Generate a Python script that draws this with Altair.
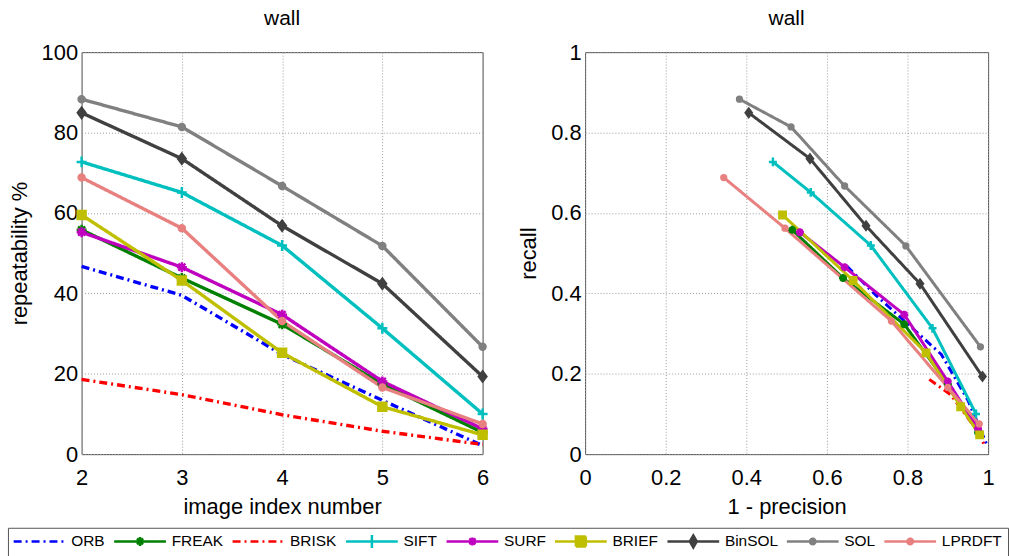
import altair as alt
import pandas as pd

methods = ["ORB", "FREAK", "BRISK", "SIFT", "SURF", "BRIEF", "BinSOL", "SOL", "LPRDFT"]
image_index = [2, 3, 4, 5, 6]

# Repeatability (%) for each image index
rep_orb = [46.7, 39.5, 24.8, 13.4, 2.1]
rep_freak = [55.8, 43.8, 32.3, 17.4, 5.4]
rep_brisk = [18.6, 14.8, 9.8, 5.7, 2.4]
rep_sift = [72.7, 65.1, 51.9, 31.3, 10.0]
rep_surf = [55.2, 46.5, 34.7, 18.1, 6.3]
rep_brief = [59.5, 43.2, 25.2, 11.8, 4.8]
rep_binsol = [84.9, 73.5, 56.8, 42.4, 19.3]
rep_sol = [88.3, 81.4, 66.7, 51.8, 26.7]
rep_lprdft = [68.8, 56.2, 33.1, 16.6, 7.5]

# Recall against 1 - precision
rec_orb = [0.467, 0.395, 0.248, 0.134, 0.021]
fp_orb = [0.650, 0.722, 0.884, 0.950, 0.998]
rec_freak = [0.558, 0.438, 0.323, 0.174, 0.054]
fp_freak = [0.514, 0.640, 0.792, 0.900, 0.975]
rec_brisk = [0.186, 0.148, 0.098, 0.057, 0.024]
fp_brisk = [0.854, 0.907, 0.944, 0.974, 0.990]
rec_sift = [0.727, 0.651, 0.519, 0.313, 0.100]
fp_sift = [0.466, 0.560, 0.709, 0.862, 0.970]
rec_surf = [0.552, 0.465, 0.347, 0.181, 0.063]
fp_surf = [0.533, 0.644, 0.792, 0.900, 0.975]
rec_brief = [0.595, 0.432, 0.252, 0.118, 0.048]
fp_brief = [0.490, 0.665, 0.846, 0.932, 0.979]
rec_binsol = [0.849, 0.735, 0.568, 0.424, 0.193]
fp_binsol = [0.406, 0.558, 0.697, 0.831, 0.986]
rec_sol = [0.883, 0.814, 0.667, 0.518, 0.267]
fp_sol = [0.383, 0.511, 0.644, 0.796, 0.981]
rec_lprdft = [0.688, 0.562, 0.331, 0.166, 0.075]
fp_lprdft = [0.344, 0.496, 0.760, 0.900, 0.978]

repeatability = [rep_orb, rep_freak, rep_brisk, rep_sift, rep_surf,
                 rep_brief, rep_binsol, rep_sol, rep_lprdft]
recall = [rec_orb, rec_freak, rec_brisk, rec_sift, rec_surf,
          rec_brief, rec_binsol, rec_sol, rec_lprdft]
one_minus_precision = [fp_orb, fp_freak, fp_brisk, fp_sift, fp_surf,
                       fp_brief, fp_binsol, fp_sol, fp_lprdft]

# ---- styling -------------------------------------------------------------
colors = ["#0000ff", "#008000", "#ff0000", "#00bfbf", "#bf00bf",
          "#bfbf00", "#404040", "#808080", "#e88080"]
dash_dot = [8, 4, 2, 4]
solid = [1, 0]
dashes = [dash_dot, solid, dash_dot, solid, solid, solid, solid, solid, solid]

ASTERISK = "M0,-1V1M-1,0H1M-0.7,-0.7L0.7,0.7M-0.7,0.7L0.7,-0.7"
PLUS = "M0,-1.1V1.1M-1,0H1"
SQUARE = "M-0.8,-0.8H0.8V0.8H-0.8Z"
DIAMOND = "M0,-1L0.75,0L0,1L-0.75,0Z"
DOT = "M-0.6,0A0.6,0.6 0 1,0 0.6,0A0.6,0.6 0 1,0 -0.6,0Z"
plot_marker = {"FREAK": ASTERISK, "SIFT": PLUS, "SURF": ASTERISK, "BRIEF": SQUARE,
               "BinSOL": DIAMOND, "SOL": DOT, "LPRDFT": DOT}

# legend glyphs: a 52 px line segment with the series marker on it (unit = 5 px)
SEG = "M-5.2,0H5.2"
legend_glyph = {
    "ORB": SEG,
    "FREAK": SEG + "M0,-0.9V0.9M-0.9,0H0.9M-0.6,-0.6L0.6,0.6M-0.6,0.6L0.6,-0.6",
    "BRISK": SEG,
    "SIFT": SEG + "M0,-1.3V1.3",
    "SURF": SEG + "M0,-0.8V0.8M-0.6,-0.6L0.6,0.6M-0.6,0.6L0.6,-0.6",
    "BRIEF": SEG + "M-1,-1H1V1H-1Z",
    "BinSOL": SEG + "M0,-1.2L0.7,0L0,1.2L-0.7,0Z",
    "SOL": SEG + "M-0.55,0A0.55,0.55 0 1,0 0.55,0A0.55,0.55 0 1,0 -0.55,0Z",
    "LPRDFT": SEG + "M-0.55,0A0.55,0.55 0 1,0 0.55,0A0.55,0.55 0 1,0 -0.55,0Z",
}
legend_shapes = [legend_glyph[m] for m in methods]

FONT = "Liberation Sans"
PAD_LEFT, PAD_TOP = 7, 6
# legend box corner, measured from the top-left corner of the left plot area
LEGEND_X, LEGEND_Y = -74, 478

# ---- tables --------------------------------------------------------------
rows_rep, rows_pr = [], []
for name, rep, rec, fp in zip(methods, repeatability, recall, one_minus_precision):
    for k, (ix, r) in enumerate(zip(image_index, rep)):
        rows_rep.append({"method": name, "k": k, "x": ix, "y": r,
                         "marker": plot_marker.get(name)})
    for k, (f, r) in enumerate(zip(fp, rec)):
        rows_pr.append({"method": name, "k": k, "x": f, "y": r,
                        "marker": plot_marker.get(name)})
df_rep = pd.DataFrame(rows_rep)
df_pr = pd.DataFrame(rows_pr)

legend_def = alt.Legend(
    title=None, orient="none", legendX=LEGEND_X, legendY=LEGEND_Y,
    direction="horizontal", columns=9, gridAlign="none",
    symbolSize=100, symbolStrokeWidth=2.5, symbolOffset=18,
    labelOffset=24, labelFont=FONT, labelFontSize=15.5, labelColor="black",
    columnPadding=3, padding=6, strokeColor="#555555", fillColor="white",
    cornerRadius=0,
)


def panel(df, xtitle, ytitle, xdom, xvals, ydom, yvals, width, height,
          line_w, marker_size, with_legend):
    x = alt.X("x:Q", scale=alt.Scale(domain=xdom, nice=False, zero=False),
              axis=alt.Axis(values=xvals, title=xtitle, format="~r",
                            labelFlush=False, labelPadding=14, titlePadding=8))
    y = alt.Y("y:Q", scale=alt.Scale(domain=ydom, nice=False, zero=False),
              axis=alt.Axis(values=yvals, title=ytitle, format="~r",
                            labelFlush=False, labelPadding=4, titlePadding=10))
    color_nl = alt.Color("method:N", scale=alt.Scale(domain=methods, range=colors),
                         legend=None)
    fill_nl = alt.Fill("method:N", scale=alt.Scale(domain=methods, range=colors),
                       legend=None)
    stroke_nl = alt.Stroke("method:N", scale=alt.Scale(domain=methods, range=colors),
                           legend=None)
    dash_nl = alt.StrokeDash("method:N", scale=alt.Scale(domain=methods, range=dashes),
                             legend=None)
    base = alt.Chart(df)
    layers = []
    if with_legend:
        # off-plot copies (clipped away) that only feed the shared legend
        ghost = base.transform_calculate(y="-1000").mark_point(
            filled=False, opacity=1, strokeWidth=2.5, clip=True).encode(
            x=x, y=y,
            color=alt.Color("method:N", scale=alt.Scale(domain=methods, range=colors),
                            legend=legend_def),
            shape=alt.Shape("method:N", scale=alt.Scale(domain=methods, range=legend_shapes),
                            legend=legend_def),
            strokeDash=alt.StrokeDash("method:N", scale=alt.Scale(domain=methods, range=dashes),
                                      legend=legend_def))
        layers.append(ghost)
    lines = base.mark_line(strokeWidth=line_w).encode(
        x=x, y=y, color=color_nl, strokeDash=dash_nl, order="k:Q")
    points = base.transform_filter("isValid(datum.marker)").mark_point(
        filled=True, opacity=1, strokeWidth=2.5, size=marker_size).encode(
        x=x, y=y, fill=fill_nl, stroke=stroke_nl,
        shape=alt.Shape("marker:N", scale=None, legend=None))
    layers += [lines, points]
    return alt.layer(*layers).properties(
        width=width, height=height,
        title=alt.TitleParams("wall", fontSize=21, fontWeight="normal", font=FONT,
                              offset=12, anchor="middle", color="black"))


left = panel(df_rep, "image index number", "repeatability %", [2, 6], image_index,
             [0, 100], [0, 20, 40, 60, 80, 100], 403, 404, 3.4, 100, True)
right = panel(df_pr, "1 - precision", "recall", [0, 1], [0, 0.2, 0.4, 0.6, 0.8, 1],
              [0, 1], [0, 0.2, 0.4, 0.6, 0.8, 1], 405, 404, 3.0, 64, False)

chart = alt.hconcat(left, right, spacing=23).properties(
    padding={"left": PAD_LEFT, "top": PAD_TOP, "right": 0, "bottom": 0}
).configure(font=FONT).configure_view(
    stroke="#4d4d4d", strokeWidth=1
).configure_axis(
    domain=False, ticks=False, grid=True, gridDash=[1, 2], gridColor="#9a9a9a",
    gridWidth=1, labelFont=FONT, labelFontSize=22, labelColor="black",
    titleFont=FONT, titleFontSize=22, titleFontWeight="normal", titleColor="black",
)

chart.save("out.html", embed_options={"renderer": "svg", "actions": False})
